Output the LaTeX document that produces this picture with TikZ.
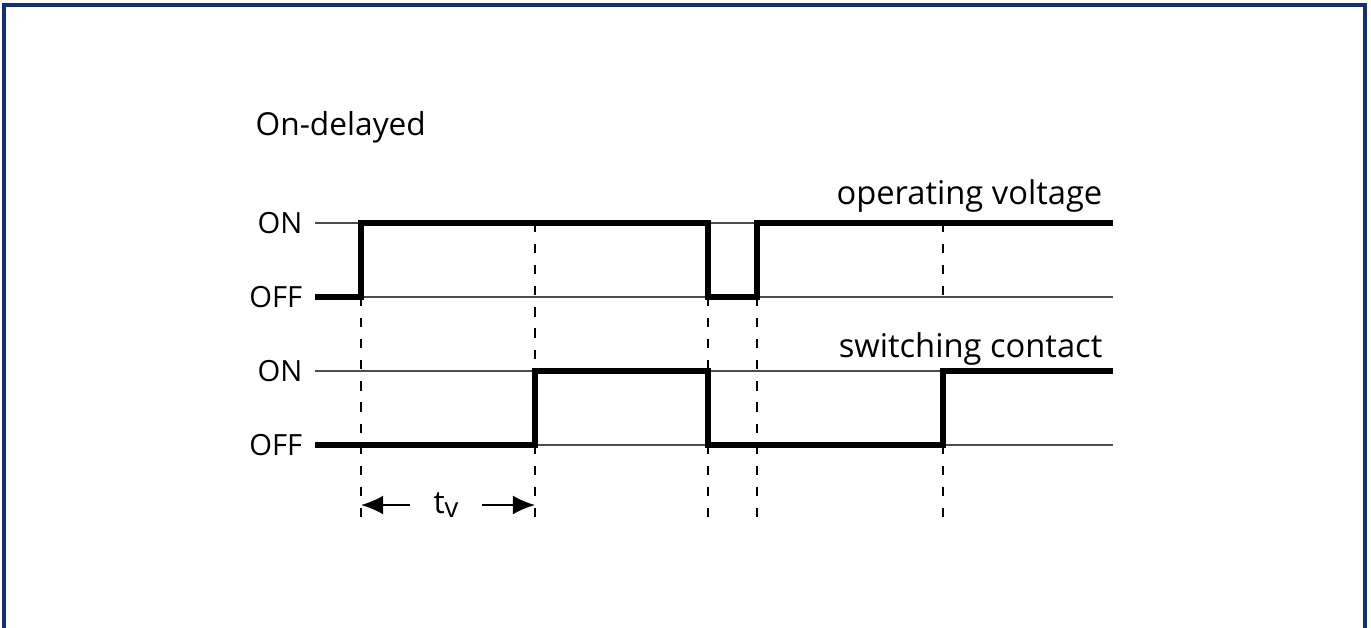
\documentclass[tikz,border=0pt]{standalone}
\usepackage{fontspec}
\setmainfont{Open Sans}
\usetikzlibrary{arrows.meta}
\definecolor{framecol}{RGB}{22,46,122}
\begin{document}
\begin{tikzpicture}[>={Latex[length=6.3pt,width=5.4pt]},x=0.01cm,y=-0.01cm,
	level/.style={line width=0.35pt,color=black!70},
	signal/.style={line width=1.45pt,line join=miter},
	guide/.style={line width=0.55pt,dash pattern=on 2.6pt off 3.4pt},
	lab/.style={inner sep=0pt,font=\fontsize{8.3}{10}\selectfont}]
			\useasboundingbox (0,0) rectangle (1371,628);
			\clip (0,0) rectangle (1371,628);
			\def\xs{315} % Anfang der Linien
			\def\xe{1113}
			\def\ta{361} \def\tb{535} \def\tc{708} \def\td{757} \def\te{943}
			\def\uon{223} \def\uoff{297} \def\son{371} \def\soff{445}
			\draw[framecol,line width=0.9pt] (4,5) rectangle (1365,700);
			\node[lab,anchor=base west,font=\fontsize{9}{11}\selectfont] (title) at (255,136) {On-delayed};
			% Pegel
			\draw[level] (\xs,\uon) -- (\xe,\uon);
			\draw[level] (\xs,\uoff) -- (\xe,\uoff);
			\draw[level] (\xs,\son) -- (\xe,\son);
			\draw[level] (\xs,\soff) -- (\xe,\soff);
			\node[lab,anchor=east] (uonlab) at (303,\uon) {ON};
			\node[lab,anchor=east] (uofflab) at (303,\uoff) {OFF};
			\node[lab,anchor=east] (sonlab) at (303,\son) {ON};
			\node[lab,anchor=east] (sofflab) at (303,\soff) {OFF};
			\node[lab,anchor=base east,font=\fontsize{9.3}{11}\selectfont] (ulab) at (1103,205) {operating voltage};
			\node[lab,anchor=base east,font=\fontsize{9.3}{11}\selectfont] (slab) at (1103,357) {switching contact};
			% Hilfslinien
			\draw[guide] (\ta,\uoff) -- (\ta,528);
			\draw[guide] (\tb,\uon) -- (\tb,\son) (\tb,\soff) -- (\tb,528);
			\draw[guide] (\tc,\uoff) -- (\tc,528);
			\draw[guide] (\td,\uoff) -- (\td,528);
			\draw[guide] (\te,\uon) -- (\te,\uoff) (\te,\soff) -- (\te,528);
			% Signale
			\draw[signal] (\xs,\uoff) -| (\ta,\uon) -| (\tc,\uoff) -| (\td,\uon) -- (\xe,\uon);
			\draw[signal] (\xs,\soff) -| (\tb,\son) -| (\tc,\soff) -| (\te,\son) -- (\xe,\son);
			% Verzoegerung
			\coordinate (tvL) at (\ta,505);
			\coordinate (tvR) at (\tb,505);
			\node[lab,inner xsep=0.23cm,font=\fontsize{9}{11}\selectfont] (tv) at (446,505) {t\raisebox{-1.2pt}{\fontsize{7.8}{9}\selectfont v}};
			\draw[->,line width=0.6pt] (tv) -- (tvL);
			\draw[->,line width=0.6pt] (tv) -- (tvR);
		\end{tikzpicture}
\end{document}
